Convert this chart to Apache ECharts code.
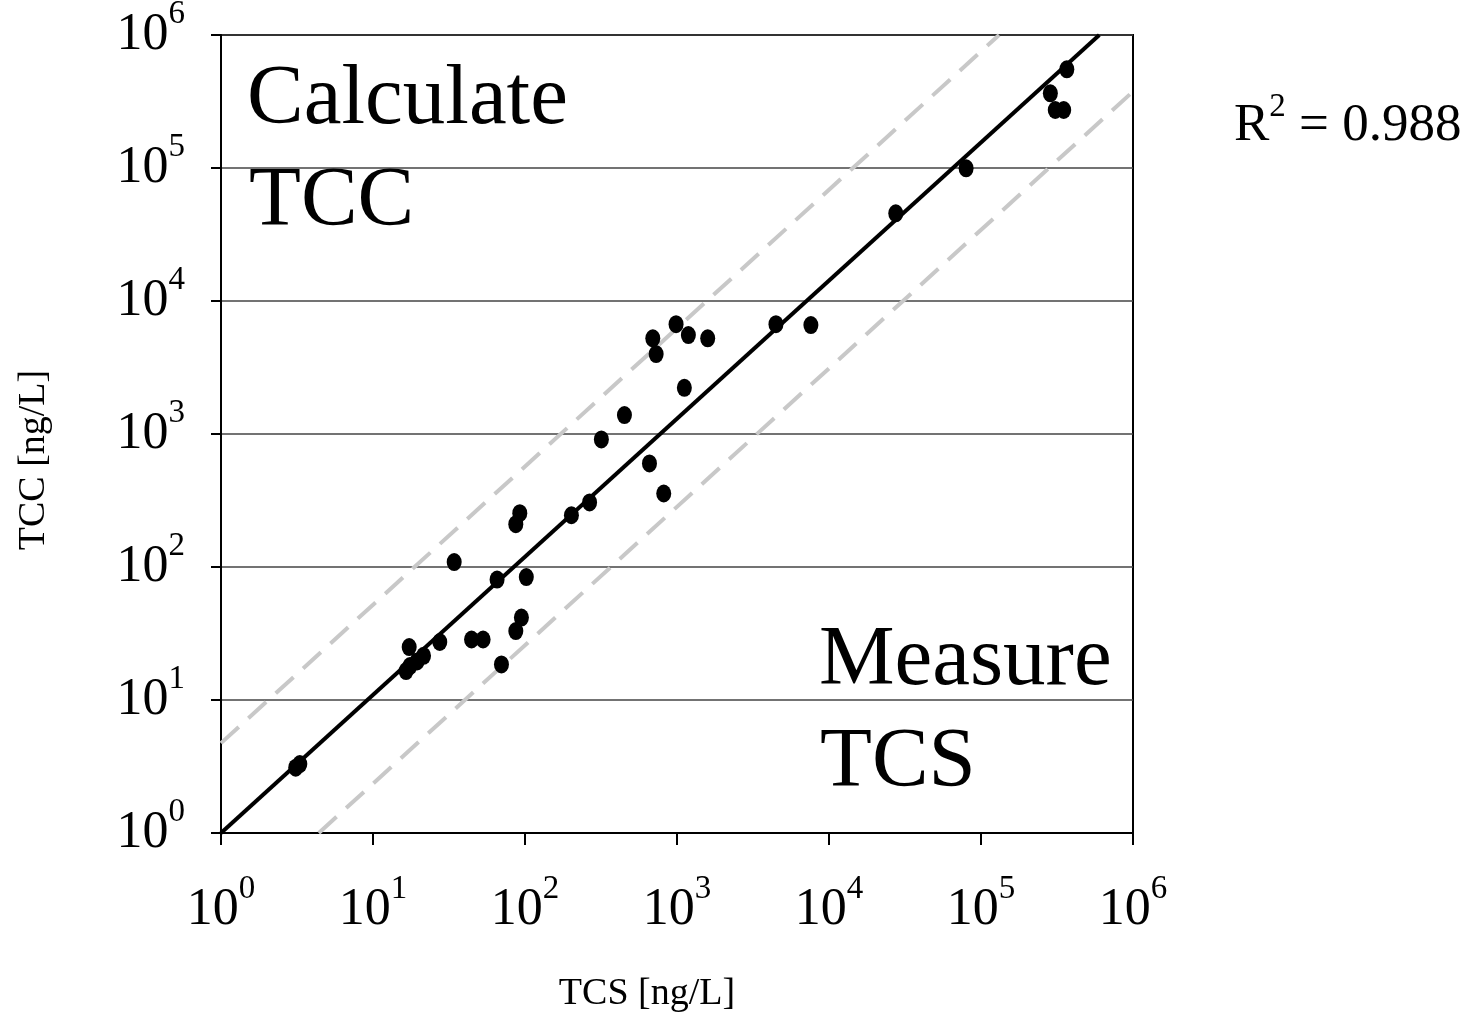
<!DOCTYPE html>
<html>
<head>
<meta charset="utf-8">
<script src="https://cdn.jsdelivr.net/npm/echarts@6/dist/echarts.min.js"></script>
<style>
  html, body { margin: 0; padding: 0; background: #fff; }
  #chart { width: 1477px; height: 1021px; }
</style>
</head>
<body>
<div id="chart"></div>
<script>
// measured vs calculated, ng/L
const tcs = [3.1, 3.3, 16.5, 17.5, 17.3, 19.5, 21.5, 27.5, 34.2, 44.5, 53, 65.5, 70, 87, 94.7, 102, 87, 92.4,
  202, 266, 318, 451, 659, 818, 693, 729, 986, 1118, 1188, 1592, 4477, 7600,
  27500, 79800, 286000, 308000, 350000, 367000]
const tcc = [3.1, 3.3, 16.5, 18, 25, 19.5, 21.5, 27.3, 109, 28.5, 28.5, 80.5, 18.5, 33, 41.7, 84, 210, 254,
  245, 306, 910, 1387, 601, 357, 5240, 3990, 6700, 2224, 5540, 5240, 6700, 6590,
  45600, 99400, 364000, 273000, 273000, 552000]

// regression line and the two bounds (end points)
const fitLine = [[1, 1], [600000, 1000000]]
const upperLine = [[1, 4.74], [131500, 1000000]]
const lowerLine = [[4.4, 1], [1000000, 376000]]

const font = '"Liberation Serif", "Times New Roman", serif'
const ellipse = "path://M0,-1A1,1 0 1,1 0,1A1,1 0 1,1 0,-1Z"

const tickRich = {
  b: { fontSize: 52, lineHeight: 74, fontFamily: font, color: "#000" },
  s: { fontSize: 33, lineHeight: 33, verticalAlign: "top", fontFamily: font, color: "#000" },
}
const tickFormatter = (v) => "{b|10}{s|" + Math.round(Math.log10(v)) + "}"

const chart = echarts.init(document.getElementById("chart"))

const option = {
  animation: false,
  backgroundColor: "#fff",
  grid: {
    left: 221,
    top: 35,
    width: 912,
    height: 798,
    show: true,
    borderColor: "#000",
    borderWidth: 2,
    containLabel: false,
    outerBoundsMode: "none",
  },
  xAxis: {
    type: "log",
    logBase: 10,
    min: 1,
    max: 1000000,
    splitNumber: 6,
    name: "TCS [ng/L]",
    nameLocation: "middle",
    nameGap: 142,
    nameTextStyle: { fontFamily: font, fontSize: 38, color: "#000", padding: [0, 60, 0, 0] },
    axisLine: { lineStyle: { color: "#000", width: 2 } },
    axisTick: { show: true, length: 12, lineStyle: { color: "#000", width: 2 } },
    minorTick: { show: false },
    splitLine: { show: false },
    axisLabel: { formatter: tickFormatter, rich: tickRich, margin: 40, showMinLabel: true, showMaxLabel: true },
  },
  yAxis: {
    type: "log",
    logBase: 10,
    min: 1,
    max: 1000000,
    splitNumber: 6,
    name: "TCC [ng/L]",
    nameLocation: "middle",
    nameRotate: 90,
    nameGap: 168,
    nameTextStyle: { fontFamily: font, fontSize: 38, color: "#000", padding: [0, 52, 0, 0] },
    axisLine: { lineStyle: { color: "#000", width: 2 } },
    axisTick: { show: true, length: 10, lineStyle: { color: "#000", width: 2 } },
    minorTick: { show: false },
    splitLine: { show: true, lineStyle: { color: "#444", width: 1.5 } },
    axisLabel: { formatter: tickFormatter, rich: tickRich, margin: 36, showMinLabel: true, showMaxLabel: true },
  },
  graphic: [
    { type: "text", silent: true, z: 10,
      position: [247, 101], style: { text: "Calculate", font: "85px " + font, fill: "#000", verticalAlign: "middle" } },
    { type: "text", silent: true, z: 10,
      position: [249, 203], style: { text: "TCC", font: "85px " + font, fill: "#000", verticalAlign: "middle" } },
    { type: "text", silent: true, z: 10,
      position: [819, 662], style: { text: "Measure", font: "85px " + font, fill: "#000", verticalAlign: "middle" } },
    { type: "text", silent: true, z: 10,
      position: [820, 764], style: { text: "TCS", font: "85px " + font, fill: "#000", verticalAlign: "middle" } },
    { type: "text", silent: true, z: 10,
      position: [1234, 126],
      style: {
        text: "{r|R}{s|2}{r| = 0.988}",
        verticalAlign: "middle",
        rich: {
          r: { fontSize: 53, lineHeight: 70, fontFamily: font, color: "#000" },
          s: { fontSize: 33, lineHeight: 33, verticalAlign: "top", fontFamily: font, color: "#000" },
        },
      } },
  ],
  series: [
    {
      type: "line",
      data: upperLine,
      showSymbol: false,
      lineStyle: { color: "#c8c8c8", width: 4, type: [24, 13] },
      z: 2,
    },
    {
      type: "line",
      data: lowerLine,
      showSymbol: false,
      lineStyle: { color: "#c8c8c8", width: 4, type: [24, 13] },
      z: 2,
    },
    {
      type: "line",
      data: fitLine,
      showSymbol: false,
      lineStyle: { color: "#000", width: 4 },
      z: 3,
    },
    {
      type: "scatter",
      data: tcs.map((x, i) => [x, tcc[i]]),
      symbol: ellipse,
      symbolSize: [15, 18],
      itemStyle: { color: "#000", opacity: 1 },
      z: 4,
    },
  ],
}

chart.setOption(option)
</script>
</body>
</html>
